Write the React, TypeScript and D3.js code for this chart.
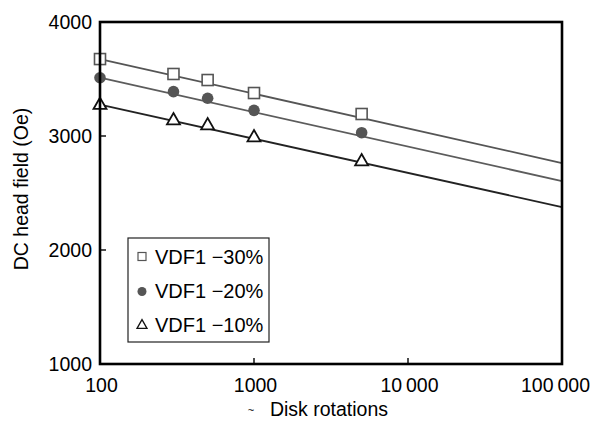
import React from 'react'
import * as d3 from 'd3'

// rotations where head field was measured
const rotations = [100, 300, 500, 1000, 5000]
const vdf30 = [3675, 3544, 3491, 3377, 3193]
const vdf20 = [3511, 3389, 3331, 3225, 3029]
const vdf10 = [3275, 3140, 3096, 2991, 2780]

// fitted trend lines (start / end)
const trendX = [100, 100000]
const trend30 = [3675, 2763]
const trend20 = [3511, 2605]
const trend10 = [3275, 2377]

const xTicks = [100, 1000, 10000, 100000]
const xTickLabels = ['100', '1000', '10\u2009000', '100\u2009000']
const yTicks = [1000, 2000, 3000, 4000]
const legendLabels = ['VDF1 \u221230%', 'VDF1 \u221220%', 'VDF1 \u221210%']

const W = 592
const H = 428
const font = 'Liberation Sans, Arial, sans-serif'
const fs = 19.5

const x = d3.scaleLog().domain([100, 100000]).range([100, 562])
const y = d3.scaleLinear().domain([1000, 4000]).range([364, 22])

const line = d3.line<number>()
  .x((d, i) => x(trendX[i]))
  .y(d => y(d))

const tri = (cx: number, cy: number, s: number) => {
  const h = s * 0.87
  return `M${cx},${cy - h * 0.62}L${cx + s / 2},${cy + h * 0.38}L${cx - s / 2},${cy + h * 0.38}Z`
}

export default function App() {
  return (
    <svg width={W} height={H} style={{ position: 'absolute', left: 0, top: 0 }} fontFamily={font}>
      <rect width={W} height={H} fill="#fff" />
      {/* trend lines */}
      <path d={line(trend30) || ''} fill="none" stroke="#555" strokeWidth={1.8} />
      <path d={line(trend20) || ''} fill="none" stroke="#5c5c5c" strokeWidth={1.8} />
      <path d={line(trend10) || ''} fill="none" stroke="#222" strokeWidth={1.8} />

      {/* markers */}
      {rotations.map((r, i) => (
        <rect key={'s' + i} x={x(r) - 5.5} y={y(vdf30[i]) - 5.5} width={11} height={11}
          fill="#fff" stroke="#555" strokeWidth={1.6} />
      ))}
      {rotations.map((r, i) => (
        <circle key={'c' + i} cx={x(r)} cy={y(vdf20[i])} r={5.8} fill="#555" />
      ))}
      {rotations.map((r, i) => (
        <path key={'t' + i} d={tri(x(r), y(vdf10[i]), 13)} fill="#fff" stroke="#111" strokeWidth={1.8} />
      ))}

      {/* frame */}
      <rect x={100} y={22} width={462} height={342} fill="none" stroke="#000" strokeWidth={2.6} />

      {/* y ticks */}
      {yTicks.map(t => (
        <g key={'y' + t}>
          {t > 1000 && t < 4000 && <line x1={100} x2={106} y1={y(t)} y2={y(t)} stroke="#000" strokeWidth={1.4} />}
          <text x={92} y={y(t)} dy="0.36em" textAnchor="end" fontSize={fs}>{t}</text>
        </g>
      ))}
      {/* x ticks */}
      {xTicks.map((t, i) => (
        <g key={'x' + t}>
          {i > 0 && i < xTicks.length - 1 && <line x1={x(t)} x2={x(t)} y1={364} y2={358} stroke="#000" strokeWidth={1.4} />}
          <text x={i === xTicks.length - 1 ? 590 : x(t) + 1.5} y={392}
            textAnchor={i === xTicks.length - 1 ? 'end' : 'middle'} fontSize={fs}>{xTickLabels[i]}</text>
        </g>
      ))}

      {/* axis titles */}
      <text transform="translate(28,189) rotate(-90)" textAnchor="middle" fontSize={fs}>DC head field (Oe)</text>
      <text x={329} y={416} textAnchor="middle" fontSize={fs}>Disk rotations</text>
      <text x={251} y={414} textAnchor="middle" fontSize={11}>~</text>

      {/* legend */}
      <rect x={128} y={238} width={141} height={104} fill="#fff" stroke="#222" strokeWidth={1.2} />
      <rect x={138} y={252.5} width={8} height={8} fill="#fff" stroke="#555" strokeWidth={1.2} />
      <circle cx={142} cy={291.5} r={4.5} fill="#555" />
      <path d={tri(142, 325, 10)} fill="#fff" stroke="#111" strokeWidth={1.3} />
      {legendLabels.map((l, i) => (
        <text key={l} x={155} y={257 + i * 34} dy="0.36em" fontSize={20}>{l}</text>
      ))}
    </svg>
  )
}
